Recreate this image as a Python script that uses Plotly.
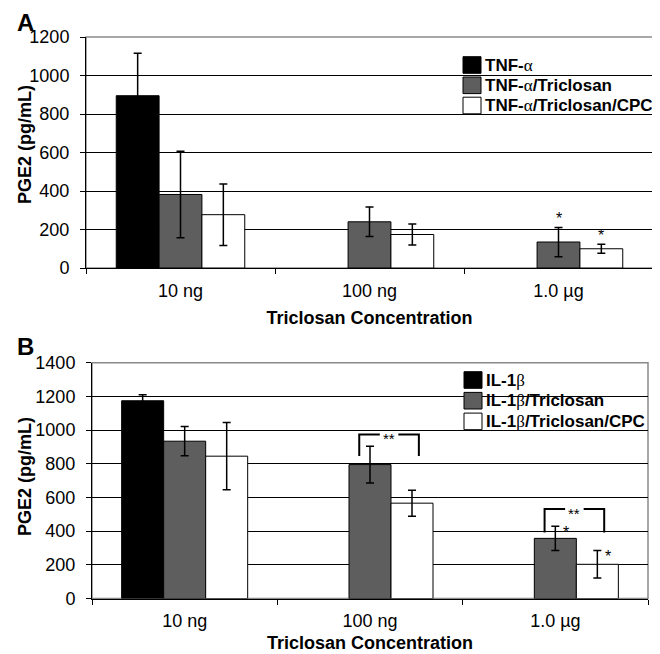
import plotly.graph_objects as go

# ---------------- data ----------------
categories = ["10 ng", "100 ng", "1.0 µg"]

# Panel A (TNF-alpha)
tnf_names = ["TNF-α", "TNF-α/Triclosan", "TNF-α/Triclosan/CPC"]
tnf_alone = [895, None, None]
tnf_alone_err = [220, 0, 0]
tnf_triclosan = [382, 240, 135]
tnf_triclosan_err = [225, 77, 76]
tnf_tric_cpc = [277, 174, 100]
tnf_tric_cpc_err = [160, 55, 24]

# Panel B (IL-1beta)
il_names = ["IL-1β", "IL-1β/Triclosan", "IL-1β/Triclosan/CPC"]
il_alone = [1174, None, None]
il_alone_err = [35, 0, 0]
il_triclosan = [934, 795, 357]
il_triclosan_err = [87, 109, 72]
il_tric_cpc = [845, 566, 203]
il_tric_cpc_err = [200, 77, 82]

yticks_a = [0, 200, 400, 600, 800, 1000, 1200]
yticks_b = [0, 200, 400, 600, 800, 1000, 1200, 1400]

# significance: single stars (panel A above bars, panel B beside caps)
a_star_series = [1, 2]          # series index (1 = triclosan, 2 = triclosan/CPC)
a_star_cat = [2, 2]
b_star_series = [1, 2]
b_star_cat = [2, 2]
# brackets (panel B): category, top level, end level (pg/mL)
b_bracket_cat = [1, 2]
b_bracket_top = [974, 531]
b_bracket_end = [846, 392]

# ---------------- style ----------------
FONT = "Liberation Sans, Arial, sans-serif"
COLORS = ["#000000", "#5e5e5e", "#ffffff"]
BARGAP = 0.32
W = (1 - BARGAP) / 3  # width of one bar in category units


def offset(series_idx):
    return (series_idx - 1) * W


fig = go.Figure()

sets = [
    ("x", "y", [tnf_alone, tnf_triclosan, tnf_tric_cpc],
     [tnf_alone_err, tnf_triclosan_err, tnf_tric_cpc_err], tnf_names),
    ("x2", "y2", [il_alone, il_triclosan, il_tric_cpc],
     [il_alone_err, il_triclosan_err, il_tric_cpc_err], il_names),
]

for xa, ya, vals, errs, names in sets:
    for i in range(3):
        fig.add_trace(go.Bar(
            x=categories, y=vals[i], name=names[i],
            xaxis=xa, yaxis=ya, showlegend=False,
            marker=dict(color=COLORS[i], line=dict(color="black", width=1)),
            error_y=dict(type="data", array=errs[i], color="black",
                         thickness=1.5, width=4),
        ))

# ---------------- layout ----------------
# the page body adds an 8px margin, so the figure is 8px smaller and
# reference pixel positions are shifted by 8px
OFF = 8
W_PX, H_PX = 660 - OFF, 654 - OFF


def px_x(p):
    return (p - OFF) / W_PX


def px_y(p):
    return 1 - (p - OFF) / H_PX


tickfont = dict(family=FONT, size=18, color="black")
titlefont = dict(family=FONT, size=18, color="black")

common_x = dict(
    type="category", showline=True, linecolor="black", linewidth=1,
    ticks="outside", tickson="boundaries", ticklen=5, tickcolor="black",
    tickfont=tickfont, showgrid=False, automargin=False,
    range=[-0.5, 2.5], ticklabelstandoff=6,
)
common_y = dict(
    showline=True, linecolor="black", linewidth=1, ticks="outside",
    ticklen=5, tickcolor="black", tickfont=tickfont,
    showgrid=True, gridcolor="black", gridwidth=1, zeroline=False,
    automargin=False, ticklabelstandoff=7,
)

fig.update_layout(
    width=W_PX, height=H_PX,
    margin=dict(l=0, r=0, t=0, b=0, autoexpand=False),
    paper_bgcolor="white", plot_bgcolor="white",
    barmode="group", bargap=BARGAP, bargroupgap=0,
    font=dict(family=FONT, color="black"),
    xaxis=dict(common_x, domain=[px_x(86), px_x(653)], anchor="y",
               title=dict(text="<b>Triclosan Concentration</b>", font=titlefont, standoff=11)),
    yaxis=dict(common_y, domain=[px_y(268), px_y(37)], anchor="x",
               range=[0, 1200], tickvals=yticks_a),
    xaxis2=dict(common_x, domain=[px_x(92), px_x(648)], anchor="y2",
                title=dict(text="<b>Triclosan Concentration</b>", font=titlefont, standoff=6)),
    yaxis2=dict(common_y, domain=[px_y(598.5), px_y(362.7)], anchor="x2",
                range=[0, 1400], tickvals=yticks_b),
    showlegend=False,
)

shapes = []
annotations = []

# gray frame (top/right) of each plot area
for xr, yr in [("x domain", "y domain"), ("x2 domain", "y2 domain")]:
    shapes.append(dict(type="rect", xref=xr, yref=yr, x0=0, x1=1, y0=0, y1=1,
                       line=dict(color="#8a8a8a", width=1.5), layer="below"))

# panel letters
for letter, (lx, ly) in zip(["A", "B"], [(25, 22), (25, 347)]):
    annotations.append(dict(text=f"<b>{letter}</b>", x=px_x(lx), y=px_y(ly),
                            xref="paper", yref="paper", xanchor="center", yanchor="middle",
                            showarrow=False, font=dict(family=FONT, size=24, color="black")))

# y-axis titles
for cy in [145, 477]:
    annotations.append(dict(text="<b>PGE2 (pg/mL)</b>", x=px_x(25), y=px_y(cy),
                            xref="paper", yref="paper", xanchor="center", yanchor="middle",
                            textangle=-90, showarrow=False, font=titlefont))

# legends (drawn by hand to match the original swatch size / spacing)
legend_specs = [
    (tnf_names, 463, [65, 85.3, 105.5]),
    (il_names, 464, [380, 400.7, 421.4]),
]
for names, sx, rows in legend_specs:
    for i, (nm, ry) in enumerate(zip(names, rows)):
        shapes.append(dict(type="rect", xref="paper", yref="paper",
                           x0=px_x(sx), x1=px_x(sx + 18), y0=px_y(ry - 8.3), y1=px_y(ry + 8.3),
                           fillcolor=COLORS[i], line=dict(color="black", width=1)))
        label = nm.replace("α", "<span style='font-family:Liberation Serif;font-weight:normal'>α</span>")
        label = label.replace("β", "<span style='font-family:Liberation Serif;font-weight:normal'>β</span>")
        annotations.append(dict(text=f"<b>{label}</b>", x=px_x(sx + 20), y=px_y(ry),
                                xref="paper", yref="paper", xanchor="left", yanchor="middle",
                                showarrow=False,
                                font=dict(family=FONT, size=17, color="black")))

# panel A stars (above error bars)
a_vals = [tnf_alone, tnf_triclosan, tnf_tric_cpc]
a_errs = [tnf_alone_err, tnf_triclosan_err, tnf_tric_cpc_err]
for s, c in zip(a_star_series, a_star_cat):
    top = a_vals[s][c] + a_errs[s][c]
    annotations.append(dict(text="*", x=c + offset(s), y=top, xref="x", yref="y",
                            showarrow=False, yanchor="bottom", yshift=-2,
                            font=dict(family=FONT, size=16, color="black")))

# panel B stars (beside error caps)
b_vals = [il_alone, il_triclosan, il_tric_cpc]
b_errs = [il_alone_err, il_triclosan_err, il_tric_cpc_err]
for s, c in zip(b_star_series, b_star_cat):
    top = b_vals[s][c] + b_errs[s][c]
    annotations.append(dict(text="*", x=c + offset(s), y=top, xref="x2", yref="y2",
                            showarrow=False, yanchor="middle", xshift=11, yshift=-6,
                            font=dict(family=FONT, size=16, color="black")))

# panel B brackets with "**"
for c, ytop, yend in zip(b_bracket_cat, b_bracket_top, b_bracket_end):
    xl = c + offset(1) - 0.058
    xr_ = c + offset(2) + 0.037
    xm = (xl + xr_) / 2
    gap = 0.05
    shapes.append(dict(type="path", xref="x2", yref="y2",
                       path=f"M {xl},{yend} L {xl},{ytop} L {xm - gap},{ytop}",
                       line=dict(color="black", width=2)))
    shapes.append(dict(type="path", xref="x2", yref="y2",
                       path=f"M {xm + gap},{ytop} L {xr_},{ytop} L {xr_},{yend}",
                       line=dict(color="black", width=2)))
    annotations.append(dict(text="**", x=xm, y=ytop, xref="x2", yref="y2",
                            showarrow=False, yanchor="middle", yshift=-4,
                            font=dict(family=FONT, size=15, color="black")))

fig.update_layout(shapes=shapes, annotations=annotations)

fig.write_html("out.html")
